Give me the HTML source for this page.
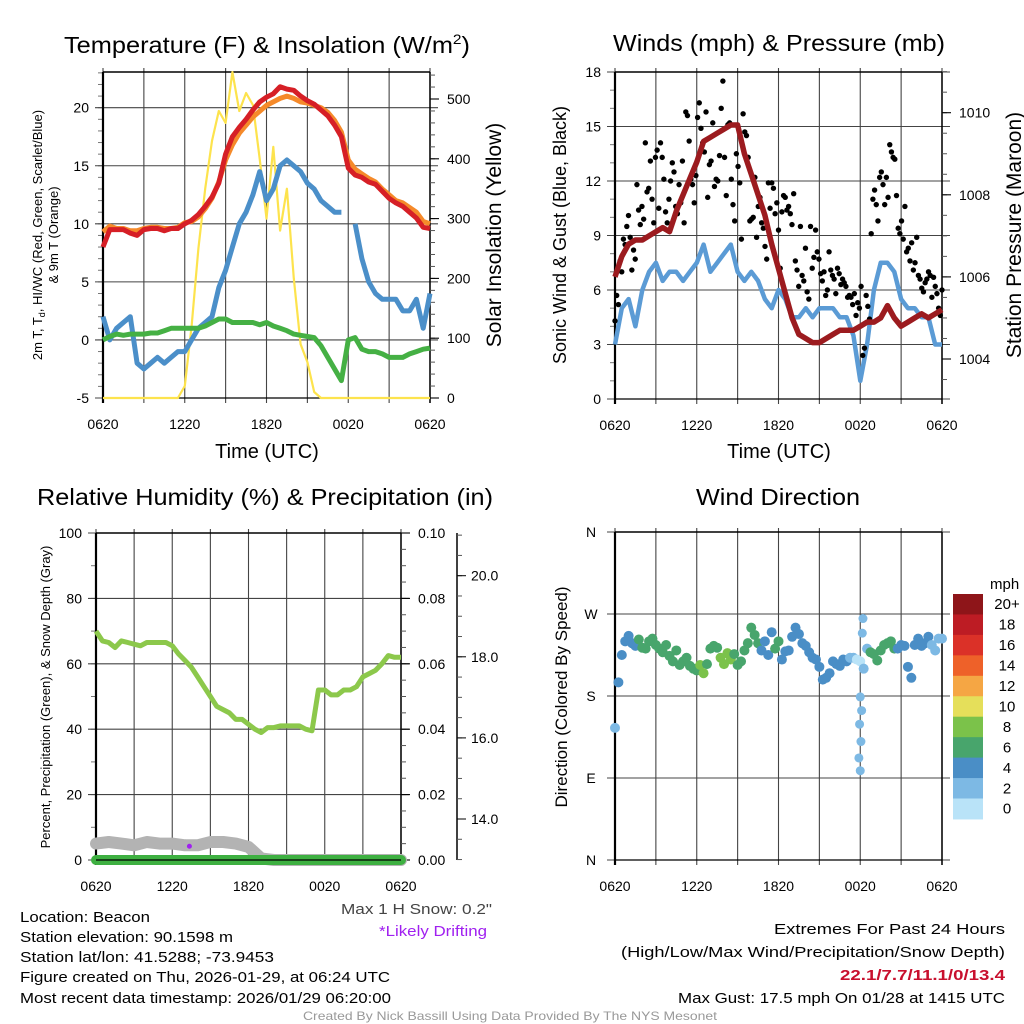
<!DOCTYPE html>
<html><head><meta charset="utf-8">
<style>
html,body{margin:0;padding:0;background:#fff;}
svg{display:block;font-family:"Liberation Sans",sans-serif;}
</style></head>
<body>
<svg id="chart" width="1024" height="1024" viewBox="0 0 1024 1024" xmlns="http://www.w3.org/2000/svg">
<rect x="0" y="0" width="1024" height="1024" fill="#fff"/>
<g id="plots"></g>
<text x="267" y="53" font-size="23" text-anchor="middle" textLength="406" lengthAdjust="spacingAndGlyphs">Temperature (F) &amp; Insolation (W/m<tspan font-size="14" dy="-9">2</tspan><tspan dy="9">)</tspan></text>
<text x="779" y="51" font-size="23" text-anchor="middle" textLength="332" lengthAdjust="spacingAndGlyphs">Winds (mph) &amp; Pressure (mb)</text>
<text x="265" y="505" font-size="23" text-anchor="middle" textLength="456" lengthAdjust="spacingAndGlyphs">Relative Humidity (%) &amp; Precipitation (in)</text>
<text x="778" y="505" font-size="23" text-anchor="middle" textLength="164" lengthAdjust="spacingAndGlyphs">Wind Direction</text>
<text x="267" y="458" font-size="20" text-anchor="middle">Time (UTC)</text>
<text x="779" y="458" font-size="20" text-anchor="middle">Time (UTC)</text>
<text transform="translate(42,235) rotate(-90)" font-size="13" text-anchor="middle">2m T, T<tspan font-size="9" dy="3">d</tspan><tspan dy="-3">, HI/WC (Red, Green, Scarlet/Blue)</tspan></text>
<text transform="translate(58,235) rotate(-90)" font-size="13" text-anchor="middle">&amp; 9m T (Orange)</text>
<text transform="translate(501,235) rotate(-90)" font-size="21" text-anchor="middle">Solar Insolation (Yellow)</text>
<text transform="translate(566,235) rotate(-90)" font-size="18" text-anchor="middle">Sonic Wind &amp; Gust (Blue, Black)</text>
<text transform="translate(1021,235) rotate(-90)" font-size="21" text-anchor="middle">Station Pressure (Maroon)</text>
<text transform="translate(50,697) rotate(-90)" font-size="13" text-anchor="middle">Percent, Precipitation (Green), &amp; Snow Depth (Gray)</text>
<text transform="translate(567,697) rotate(-90)" font-size="17" text-anchor="middle">Direction (Colored By Speed)</text>
<text x="990" y="589" font-size="15">mph</text>
<g font-size="15">
<text x="20" y="922" textLength="130" lengthAdjust="spacingAndGlyphs">Location: Beacon</text>
<text x="20" y="942" textLength="213" lengthAdjust="spacingAndGlyphs">Station elevation: 90.1598 m</text>
<text x="20" y="962" textLength="254" lengthAdjust="spacingAndGlyphs">Station lat/lon: 41.5288; -73.9453</text>
<text x="20" y="982" textLength="370" lengthAdjust="spacingAndGlyphs">Figure created on Thu, 2026-01-29, at 06:24 UTC</text>
<text x="20" y="1003" textLength="371" lengthAdjust="spacingAndGlyphs">Most recent data timestamp: 2026/01/29 06:20:00</text>
</g>
<text x="492" y="914" font-size="15" fill="#444" text-anchor="end" textLength="151" lengthAdjust="spacingAndGlyphs">Max 1 H Snow: 0.2"</text>
<text x="487" y="936" font-size="15" fill="#a020f0" text-anchor="end" textLength="108" lengthAdjust="spacingAndGlyphs">*Likely Drifting</text>
<g font-size="15" text-anchor="end">
<text x="1005" y="934" textLength="231" lengthAdjust="spacingAndGlyphs">Extremes For Past 24 Hours</text>
<text x="1005" y="957" textLength="384" lengthAdjust="spacingAndGlyphs">(High/Low/Max Wind/Precipitation/Snow Depth)</text>
<text x="1005" y="980" fill="#c8102e" font-weight="bold" textLength="165" lengthAdjust="spacingAndGlyphs">22.1/7.7/11.1/0/13.4</text>
<text x="1005" y="1003" textLength="327" lengthAdjust="spacingAndGlyphs">Max Gust: 17.5 mph On 01/28 at 1415 UTC</text>
</g>
<text x="510" y="1020" font-size="12" fill="#999" text-anchor="middle" textLength="414" lengthAdjust="spacingAndGlyphs">Created By Nick Bassill Using Data Provided By The NYS Mesonet</text>
</svg>
<script>
// ---- data (time in hours since 0620 UTC) ----
const timeTickLabels = ["0620","1220","1820","0020","0620"];
const temp2m = [8,9.5,9.5,9.5,9.2,9.0,9.5,9.6,9.6,9.4,9.6,9.6,10,10.3,10.8,11.5,12.3,13.5,16.0,17.5,18.3,19.0,19.8,20.5,20.9,21.2,21.8,21.6,21.5,21.0,20.6,20.3,19.8,19.3,18.5,17.5,14.8,14.2,14.0,13.6,13.4,12.8,12.2,11.8,11.5,11.0,10.5,9.7,9.6];
const temp9m = [9.3,9.8,9.6,9.6,9.4,9.4,9.6,9.7,9.7,9.6,9.6,9.7,10.1,10.2,10.6,11.3,12.2,13.6,15.5,16.8,17.8,18.5,19.2,19.7,20.2,20.5,20.8,21.0,20.8,20.5,20.4,20.2,20.0,19.6,18.9,17.9,15.5,14.7,14.3,13.9,13.6,13.0,12.5,12.0,11.8,11.4,11.0,10.2,10.0];
const dewpoint = [2,0,1,1.5,2,-2,-2.5,-2,-1.5,-2,-1.5,-1,-1,0,1,1.5,2,4.5,6,8,10,11,12.5,14.5,12,13,15,15.5,15,14.5,13.5,13,12,11.5,11,11,null,10,7,5,4,3.5,3.5,3.5,2.5,2.5,3.5,1,4];
const heatIndexWindChill = [0,0.3,0.5,0.4,0.5,0.5,0.5,0.6,0.6,0.8,1,1,1,1,1,1.2,1.5,1.8,1.8,1.5,1.5,1.5,1.5,1.3,1.5,1.2,1,0.8,0.5,0.4,0.3,0.2,-0.5,-1.5,-2.5,-3.5,0,0.2,-0.8,-1,-1,-1.2,-1.5,-1.5,-1.5,-1.2,-1,-0.8,-0.7];
const solar = [0,0,0,0,0,0,0,0,0,0,0,0,20,120,250,350,430,480,460,545,480,510,490,400,300,420,280,350,200,90,60,10,0,0,0,0,0,0,0,0,0,0,0,0,0,0,0,0,0];
const windSpeed = [3,5,5.5,4,6,7,7.5,6.5,7,7,6.5,7,7.5,8.5,7,7.5,8,8.5,7,6.5,7,6.5,5.5,5,6,5.5,4.5,4.5,5,4.5,5,5,5,4.5,4.5,3.5,1,3,6,7.5,7.5,7,5.5,5,5,4.5,4.5,3,3];
const pressure = [1006.0,1006.5,1006.8,1006.9,1006.9,1007.0,1007.1,1007.2,1007.1,1007.6,1008.0,1008.4,1008.8,1009.3,1009.4,1009.5,1009.6,1009.7,1009.7,1009.0,1008.5,1008.0,1007.5,1006.8,1006.2,1005.6,1005.0,1004.6,1004.5,1004.4,1004.4,1004.5,1004.6,1004.7,1004.7,1004.7,1004.8,1004.9,1004.9,1005.0,1005.3,1005.0,1004.8,1004.9,1005.0,1005.1,1005.0,1005.1,1005.2];
const gusts = [4.3,5.7,5.2,7.6,7.0,8.8,8.5,9.5,10.1,8.9,7.1,8.2,7.7,11.8,10.4,9.6,10.6,9.9,14.1,11.4,11.6,13.1,11.0,9.7,13.3,13.7,10.5,14.1,13.3,12.1,10.3,9.7,11.0,12.0,13.0,12.5,10.6,10.2,11.8,10.8,13.1,9.7,15.8,15.6,14.2,12.1,11.8,10.8,12.3,15.5,16.3,14.9,14.1,13.6,15.8,11.1,12.9,13.1,15.2,11.7,12.1,12.0,13.4,16.0,17.5,13.3,11.2,15.1,15.2,12.1,10.7,9.8,13.5,12.8,11.9,8.8,15.7,14.7,14.5,13.3,9.8,9.9,10.0,12.2,8.9,10.6,11.1,9.7,9.4,8.4,7.7,11.9,10.5,11.9,11.6,10.2,10.8,9.3,7.2,10.3,11.2,11.1,10.4,10.6,10.2,9.6,11.3,7.6,7.1,6.2,9.5,6.8,6.5,8.3,5.9,5.5,9.5,7.2,7.8,9.3,8.1,7.7,6.9,6.5,7.0,5.7,6.0,8.1,7.1,6.8,6.6,5.8,7.2,6.9,6.3,6.6,6.4,6.2,5.6,5.7,5.6,5.2,5.8,4.6,5.3,5.0,6.2,2.4,2.8,5.7,5.1,4.4,9.1,11.0,11.5,10.7,9.8,12.2,12.5,11.8,10.7,12.2,11.1,14.0,13.6,13.3,13.2,11.2,9.4,9.1,9.8,8.8,10.6,8.1,8.3,7.6,8.6,7.1,7.5,8.9,6.8,6.6,6.1,5.9,6.4,6.6,7.0,6.8,5.6,6.7,6.2,5.8,5.0,4.6,6.0];
const windDir = [145,195,225,240,246,238,235,242,233,232,240,243,236,232,228,236,224,218,230,214,218,222,213,210,208,214,205,215,232,235,233,222,215,227,220,226,214,218,230,238,255,247,238,230,240,225,250,232,240,220,229,230,245,255,248,238,235,228,222,220,212,198,200,205,218,215,213,220,218,222,222,220,218,210,232,228,226,219,230,236,238,240,232,232,236,235,212,200,236,243,235,238,245,236,230,243,243];
const calmTimes = [18.0,18.1,17.95,18.05,17.9,18.0,18.2,18.15];
const calmDirs = [179,164,149,130,112,98,265,249];
const rh = [70,67,66.5,65,67,66.5,66,65.5,66.5,66.5,66.5,66.5,65.5,63,61,59,56,53,50,47,46,45,43,43,41.5,40,39,40.5,40.5,41,41,41,41,40,39.5,52,52,50.5,50.5,52,52,53,56,57,58,60,62.5,62,62];
const precip = [0,0,0,0,0,0,0,0,0,0,0,0,0,0,0,0,0,0,0,0,0,0,0,0,0];
const snowPct = [5,5.5,5,4.5,5.5,5,5,4.5,4.5,5.5,5.5,5,4,0.5,0,0,0,0,0,0,0,0,0,0,0];
const driftTimes = [7.35];
const driftVals = [4.2];
const tempTicks = [-5,0,5,10,15,20];
const solarTicks = [0,100,200,300,400,500];
const speedTicks = [0,3,6,9,12,15,18];
const pressTicks = [1004,1006,1008,1010];
const pctTicks = [0,20,40,60,80,100];
const precipTicks = ["0.00","0.02","0.04","0.06","0.08","0.10"];
const snowTicks = ["14.0","16.0","18.0","20.0"];
const dirTicks = ["N","E","S","W","N"];
const barLabels = ["20+","18","16","14","12","10","8","6","4","2","0"];
const barColors = ["#8e1519","#bd1c24","#db3128","#ee6129","#f5a644","#e5df5a","#7bc24a","#48a56c","#4a8ec6","#7db9e4","#b9e3f8"];

// ---- helpers ----
const NS = "http://www.w3.org/2000/svg";
const root = document.getElementById("plots");
function mk(tag, attrs, name, parent) {
  const el = document.createElementNS(NS, tag);
  for (const k in attrs) el.setAttribute(k, attrs[k]);
  
  
  (parent || root).appendChild(el);
  return el;
}
function lin(d0, d1, r0, r1) { return v => r0 + (v - d0) / (d1 - d0) * (r1 - r0); }
function series(arr, maxT) { return arr.map((v, i) => [i * maxT / (arr.length - 1), v]); }
function pathFrom(pts, xs, ys) {
  let d = "", pen = false;
  for (const [t, v] of pts) {
    if (v === null) { pen = false; continue; }
    d += (pen ? "L" : "M") + xs(t).toFixed(1) + "," + ys(v).toFixed(1);
    pen = true;
  }
  return d;
}
function frame(p, name) {
  const g = mk("g", {}, name + "-frame");
  for (let h = 0; h <= 24; h += 3) {
    const x = p.xs(h);
    mk("line", {x1: x, y1: p.top - 4, x2: x, y2: p.bot + 5, stroke: "#444", "stroke-width": 1.1}, name + "-vgrid", g);
  }
  mk("line", {x1: p.x0, y1: p.top, x2: p.x1, y2: p.top, stroke: "#000", "stroke-width": 1.5}, name + "-top-border", g);
  mk("line", {x1: p.x0, y1: p.bot, x2: p.x1, y2: p.bot, stroke: "#000", "stroke-width": 1.2}, name + "-bottom-border", g);
  mk("line", {x1: p.x0, y1: p.top, x2: p.x0, y2: p.bot + 5, stroke: "#000", "stroke-width": 2.2}, name + "-left-border", g);
  mk("line", {x1: p.x1, y1: p.top, x2: p.x1, y2: p.bot + 5, stroke: "#000", "stroke-width": 1.5}, name + "-right-border", g);
  timeTickLabels.forEach((lab, i) => {
    const t = mk("text", {x: p.xs(i * 6), y: p.bot + 31, "font-size": 14, "text-anchor": "middle"}, name + "-x-tick-label", g);
    t.textContent = lab;
  });
  return g;
}
function hgrid(p, vals, ys, name, leftLabels, fmt) {
  vals.forEach(v => {
    const y = ys(v);
    mk("line", {x1: p.x0 - 8, y1: y, x2: p.x1 + 8, y2: y, stroke: "#444", "stroke-width": 1.1}, name + "-hgrid", root);
    if (leftLabels) {
      const t = mk("text", {x: p.x0 - 14, y: y + 5, "font-size": 14, "text-anchor": "end"}, name + "-y-tick-label", root);
      t.textContent = fmt ? fmt(v) : v;
    }
  });
}
function rightAxis(p, vals, ys, name, labels, minorStep, dMin, dMax) {
  for (let v = dMin; v <= dMax + 1e-9; v += minorStep) {
    const y = ys(v);
    if (y < p.top - 1 || y > p.bot + 1) continue;
    mk("line", {x1: p.x1, y1: y, x2: p.x1 + 5, y2: y, stroke: "#555", "stroke-width": 1}, name + "-minor-tick", root);
  }
  vals.forEach((v, i) => {
    const y = ys(v);
    mk("line", {x1: p.x1, y1: y, x2: p.x1 + 9, y2: y, stroke: "#000", "stroke-width": 1.1}, name + "-major-tick", root);
    const t = mk("text", {x: p.x1 + 17, y: y + 5, "font-size": 14}, name + "-tick-label", root);
    t.textContent = labels[i];
  });
}

// ---- Panel 1: temperature & insolation ----
const p1 = {x0: 103, x1: 430, top: 72, bot: 398};
p1.xs = lin(0, 24, p1.x0, p1.x1);
const yT = lin(-5, 20, 398, 107.7);
const yS = lin(0, 500, 398, 99);
for (let v = -4; v <= 23; v++) mk("line", {x1: p1.x0 - 5, y1: yT(v), x2: p1.x0, y2: yT(v), stroke: "#777"}, "temp-minor-tick", root);
hgrid(p1, tempTicks, yT, "temp", true);
frame(p1, "temp-panel");
rightAxis(p1, solarTicks, yS, "solar-axis", solarTicks.map(String), 20, 0, 540);
mk("path", {d: pathFrom(series(solar, 24), p1.xs, yS), fill: "none", stroke: "#fde34d", "stroke-width": 2.2, "stroke-linejoin": "round"}, "solar-insolation-line");
mk("path", {d: pathFrom(series(dewpoint, 24), p1.xs, yT), fill: "none", stroke: "#4b8fc9", "stroke-width": 5, "stroke-linejoin": "round"}, "dewpoint-line");
mk("path", {d: pathFrom(series(heatIndexWindChill, 24), p1.xs, yT), fill: "none", stroke: "#45b044", "stroke-width": 5, "stroke-linejoin": "round"}, "wind-chill-line");
mk("path", {d: pathFrom(series(temp9m, 24), p1.xs, yT), fill: "none", stroke: "#f58a2a", "stroke-width": 5, "stroke-linejoin": "round"}, "temp-9m-line");
mk("path", {d: pathFrom(series(temp2m, 24), p1.xs, yT), fill: "none", stroke: "#d61f26", "stroke-width": 5, "stroke-linejoin": "round"}, "temp-2m-line");

// ---- Panel 2: winds & pressure ----
const p2 = {x0: 615, x1: 942, top: 72, bot: 399};
p2.xs = lin(0, 24, p2.x0, p2.x1);
const yW = lin(0, 18, 399, 72);
const yP = lin(1004, 1010, 359, 112.7);
for (let v = 0; v <= 18; v++) mk("line", {x1: p2.x0 - 5, y1: yW(v), x2: p2.x0, y2: yW(v), stroke: "#777"}, "wind-minor-tick", root);
hgrid(p2, speedTicks, yW, "wind", true);
frame(p2, "wind-panel");
rightAxis(p2, pressTicks, yP, "pressure-axis", pressTicks.map(String), 0.5, 1003, 1011);
mk("path", {d: pathFrom(series(windSpeed, 24), p2.xs, yW), fill: "none", stroke: "#5b9bd5", "stroke-width": 4.5, "stroke-linejoin": "round"}, "sonic-wind-line");
gusts.forEach((g, i) => {
  const t = i * 24 / (gusts.length - 1);
  mk("circle", {cx: p2.xs(t), cy: yW(g), r: 2.7, fill: "#000"}, "gust-point");
});
mk("path", {d: pathFrom(series(pressure, 24), p2.xs, yP), fill: "none", stroke: "#9c1b1f", "stroke-width": 5.5, "stroke-linejoin": "round"}, "pressure-line");

// ---- Panel 3: humidity & precipitation ----
const p3 = {x0: 96, x1: 401, top: 533, bot: 860};
p3.xs = lin(0, 24, p3.x0, p3.x1);
const yH = lin(0, 100, 860, 533);
const ySn = lin(14, 20, 819, 575.7);
for (let v = 0; v <= 100; v += 10) mk("line", {x1: p3.x0 - 5, y1: yH(v), x2: p3.x0, y2: yH(v), stroke: "#777"}, "humidity-minor-tick", root);
hgrid(p3, pctTicks, yH, "humidity", true);
frame(p3, "humidity-panel");
rightAxis(p3, pctTicks, yH, "precip-axis", precipTicks, 5, 0, 100);
mk("line", {x1: 457, y1: 533, x2: 457, y2: 860, stroke: "#000", "stroke-width": 1.5}, "snow-depth-axis-line");
for (let v = 13; v <= 21; v += 0.5) mk("line", {x1: 457, y1: ySn(v), x2: 462, y2: ySn(v), stroke: "#555"}, "snow-minor-tick", root);
snowTicks.forEach(s => {
  const y = ySn(parseFloat(s));
  mk("line", {x1: 457, y1: y, x2: 466, y2: y, stroke: "#000"}, "snow-major-tick");
  const t = mk("text", {x: 471, y: y + 5, "font-size": 14}, "snow-tick-label");
  t.textContent = s;
});
mk("path", {d: pathFrom(series(snowPct, 24), p3.xs, yH), fill: "none", stroke: "#b3b3b3", "stroke-width": 12, "stroke-linecap": "round", "stroke-linejoin": "round"}, "snow-depth-line");
mk("path", {d: pathFrom(series(precip.map(v => v * 1000), 24), p3.xs, yH), fill: "none", stroke: "#3eb041", "stroke-width": 10, "stroke-linecap": "round"}, "precipitation-line");
mk("line", {x1: p3.x0, y1: p3.bot, x2: p3.x1, y2: p3.bot, stroke: "#000", "stroke-width": 1.2}, "humidity-zero-line");
mk("path", {d: pathFrom(series(rh, 24), p3.xs, yH), fill: "none", stroke: "#8cc84b", "stroke-width": 5, "stroke-linejoin": "round"}, "relative-humidity-line");
driftTimes.forEach((t, i) => mk("circle", {cx: p3.xs(t), cy: yH(driftVals[i]), r: 2.5, fill: "#a020f0"}, "drifting-marker"));

// ---- Panel 4: wind direction ----
const p4 = {x0: 615, x1: 942, top: 532, bot: 860};
p4.xs = lin(0, 24, p4.x0, p4.x1);
const yD = lin(0, 360, 860, 532);
dirTicks.forEach((lab, i) => {
  const y = yD(i * 90);
  mk("line", {x1: p4.x0 - 8, y1: y, x2: p4.x1 + 8, y2: y, stroke: "#444", "stroke-width": 1.1}, "direction-hgrid");
  const t = mk("text", {x: 591, y: y + 5, "font-size": 14, "text-anchor": "middle"}, "direction-tick-label");
  t.textContent = lab;
});
frame(p4, "direction-panel");
function speedColor(s) {
  const idx = Math.min(10, Math.floor(s / 2));
  return barColors[10 - idx];
}
windDir.forEach((d, i) => {
  const t = i * 24 / (windDir.length - 1);
  const s = windSpeed[Math.round(t * 2)];
  mk("circle", {cx: p4.xs(t), cy: yD(d), r: 5, fill: speedColor(s)}, "direction-point");
});
calmTimes.forEach((t, i) => mk("circle", {cx: p4.xs(t), cy: yD(calmDirs[i]), r: 4.5, fill: barColors[9]}, "calm-direction-point"));
const cbTop = 594, cbH = 20.45;
barColors.forEach((c, i) => {
  mk("rect", {x: 953, y: cbTop + i * cbH, width: 30, height: cbH + 0.5, fill: c}, "colorbar-swatch");
  const t = mk("text", {x: 1007, y: cbTop + i * cbH + cbH / 2 + 5, "font-size": 15, "text-anchor": "middle"}, "colorbar-label");
  t.textContent = barLabels[i];
});
</script>
</body></html>
